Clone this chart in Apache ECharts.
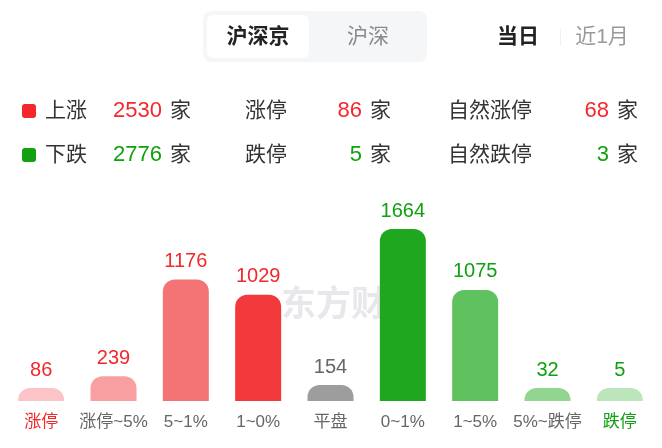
<!DOCTYPE html>
<html>
<head>
<meta charset="utf-8">
<script src="https://cdn.jsdelivr.net/npm/echarts@6/dist/echarts.min.js"></script>
<style>
html,body{margin:0;padding:0;background:#fff;}
#chart{width:662px;height:448px;}
</style>
</head>
<body>
<div id="chart"></div>
<script>
// ---- data ----
const categories = ['涨停', '涨停~5%', '5~1%', '1~0%', '平盘', '0~1%', '1~5%', '5%~跌停', '跌停'];
const values = [86, 239, 1176, 1029, 154, 1664, 1075, 32, 5];
const statLabelsUp = ['上涨', '涨停', '自然涨停'];
const statValuesUp = [2530, 86, 68];
const statLabelsDown = ['下跌', '跌停', '自然跌停'];
const statValuesDown = [2776, 5, 3];
const tabLabels = ['沪深京', '沪深'];
const periodLabels = ['当日', '近1月'];
const unitLabel = '家';
const watermarkText = '东方财富';

// ---- styles ----
const RED = '#f2282c';
const GREEN = '#10a010';
const GRAY = '#666666';
const barColors = ['#fcc4c6', '#f8a0a1', '#f47475', '#f23a3d', '#9d9d9d', '#1fa71f', '#5fc25f', '#92d591', '#bde5bb'];
const labelColors = [RED, RED, RED, RED, GRAY, GREEN, GREEN, GREEN, GREEN];
const axisColors = [RED, GRAY, GRAY, GRAY, GRAY, GRAY, GRAY, GRAY, GREEN];
const FONT = '"Liberation Sans", "Noto Sans CJK SC", sans-serif';

const chart = echarts.init(document.getElementById('chart'), null, {renderer: 'canvas'});

const graphics = [];
// watermark
graphics.push({type: 'text', z: -10, left: 281, top: 289, style: {text: watermarkText, fill: '#e8e8ec', font: 'bold 35px ' + FONT}});
// segmented control
graphics.push({type: 'rect', shape: {x: 203, y: 11, width: 224, height: 51, r: 8}, style: {fill: '#f5f6f8'}});
graphics.push({type: 'rect', shape: {x: 207, y: 15, width: 102, height: 43, r: 6}, style: {fill: '#ffffff'}});
graphics.push({type: 'text', x: 258, y: 37, style: {text: tabLabels[0], fill: '#222', font: 'bold 21px ' + FONT, align: 'center', verticalAlign: 'middle'}});
graphics.push({type: 'text', x: 368, y: 37, style: {text: tabLabels[1], fill: '#8a8a8a', font: '21px ' + FONT, align: 'center', verticalAlign: 'middle'}});
graphics.push({type: 'text', x: 518, y: 37, style: {text: periodLabels[0], fill: '#222', font: 'bold 21px ' + FONT, align: 'center', verticalAlign: 'middle'}});
graphics.push({type: 'line', shape: {x1: 560.5, y1: 29, x2: 560.5, y2: 46}, style: {stroke: '#f0f0f0', lineWidth: 1}});
graphics.push({type: 'text', x: 602, y: 37, style: {text: periodLabels[1], fill: '#9a9a9a', font: '21px ' + FONT, align: 'center', verticalAlign: 'middle'}});

function statRow(y, labels, vals, color) {
  graphics.push({type: 'rect', shape: {x: 22, y: y - 7, width: 14, height: 14, r: 3}, style: {fill: color}});
  const labelX = [45, 245, 448];
  const numRight = [162, 362, 609];
  const unitX = [170, 370, 617];
  for (let i = 0; i < 3; i++) {
    graphics.push({type: 'text', x: labelX[i], y: y, style: {text: labels[i], fill: '#333', font: '21px ' + FONT, align: 'left', verticalAlign: 'middle'}});
    graphics.push({type: 'text', x: numRight[i], y: y, style: {text: String(vals[i]), fill: color, font: '22px ' + FONT, align: 'right', verticalAlign: 'middle'}});
    graphics.push({type: 'text', x: unitX[i], y: y, style: {text: unitLabel, fill: '#333', font: '21px ' + FONT, align: 'left', verticalAlign: 'middle'}});
  }
}
statRow(111, statLabelsUp, statValuesUp, RED);
statRow(155, statLabelsDown, statValuesDown, GREEN);

const option = {
  animation: false,
  backgroundColor: '#ffffff',
  grid: {left: 5, right: 6, top: 229, bottom: 47, containLabel: false},
  xAxis: {
    type: 'category',
    data: categories,
    axisLine: {show: false},
    axisTick: {show: false},
    axisLabel: {
      interval: 0,
      fontSize: 17,
      fontFamily: FONT,
      margin: 13,
      hideOverlap: false,
      color: function (v, i) { return axisColors[i]; }
    }
  },
  yAxis: {type: 'value', min: 0, max: 1664, show: false, splitLine: {show: false}},
  graphic: graphics,
  series: [{
    type: 'bar',
    barWidth: 46,
    barMinHeight: 13,
    data: values.map((v, i) => ({
      value: v,
      itemStyle: {color: barColors[i], borderRadius: [12, 12, 0, 0]},
      label: {color: labelColors[i]}
    })),
    label: {show: true, position: 'top', distance: 8, fontSize: 20, fontFamily: FONT}
  }]
};
chart.setOption(option);
</script>
</body>
</html>
